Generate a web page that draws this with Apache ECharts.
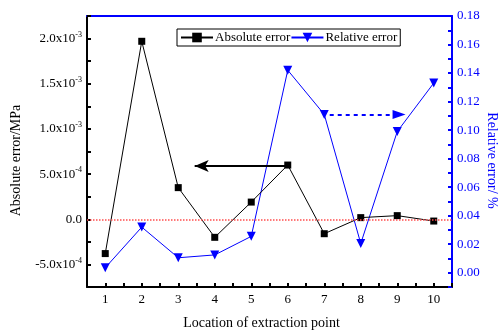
<!DOCTYPE html>
<html lang="en">
<head>
    <meta charset="UTF-8">
    <title>Absolute and relative error</title>
    <style type="text/css">
        * { margin: 0; padding: 0; }
        html, body { width: 100%; height: 100%; background: #fff; }
        #chart-panel { width: 501px; height: 332px; }
    </style>
</head>
<body>
<div id="chart-panel"></div>
<script src="https://cdn.jsdelivr.net/npm/echarts@6/dist/echarts.min.js"></script>
<script>
    // extraction point locations
    let points = [1, 2, 3, 4, 5, 6, 7, 8, 9, 10];
    // absolute error, MPa
    let absError = [-3.8e-4, 1.97e-3, 3.5e-4, -2.0e-4, 1.9e-4, 6.0e-4, -1.6e-4, 1.8e-5, 4.0e-5, -2.0e-5];
    // relative error, %
    let relError = [0.0035, 0.032, 0.0105, 0.0125, 0.0255, 0.142, 0.111, 0.0205, 0.099, 0.133];
    // left tick labels: [mantissa, exponent] for -5e-4 .. 2e-3 step 5e-4
    let leftTicks = [['-5.0x10', '-4'], ['0.0', ''], ['5.0x10', '-4'], ['1.0x10', '-3'], ['1.5x10', '-3'], ['2.0x10', '-3']];
    // arrow annotations (data coords): [x from, x to, y]
    let absArrow = [6, 3.45, 5.9e-4];
    let relArrow = [7.15, 9.05, 0.111];

    let font = 'Liberation Serif';
    let blue = '#0000ff';

    var myChart = echarts.init(document.getElementById('chart-panel'));

    var option = {
        animation: false,
        textStyle: { fontFamily: font },
        grid: { left: 87, right: 49, top: 16, bottom: 45, outerBoundsMode: 'none', containLabel: false },
        legend: {
            left: 177,
            top: 29,
            itemGap: 0,
            itemWidth: 32,
            itemHeight: 12,
            padding: [2, 3, 2, 3],
            borderColor: '#000',
            borderWidth: 1,
            borderRadius: 0,
            textStyle: { fontFamily: font, fontSize: 13, color: '#000', padding: [0, 0, 0, -3] },
            data: ['Absolute error', 'Relative error']
        },
        xAxis: [{
            type: 'value',
            min: 0.5,
            max: 10.5,
            interval: 0.5,
            name: 'Location of extraction point',
            nameLocation: 'middle',
            nameGap: 29,
            nameMoveOverlap: false,
            nameTextStyle: { fontFamily: font, fontSize: 14, color: '#000', padding: [0, 16, 0, 0] },
            axisLine: { onZero: false, lineStyle: { color: '#000', width: 2 } },
            axisTick: { inside: true, length: 4, lineStyle: { color: '#000', width: 2 } },
            axisLabel: {
                fontFamily: font, fontSize: 13, color: '#000', margin: 6,
                formatter: v => Number.isInteger(v) ? String(v) : ''
            },
            splitLine: { show: false }
        }, {
            type: 'value',
            position: 'top',
            min: 0.5,
            max: 10.5,
            axisLine: { onZero: false, lineStyle: { color: blue, width: 2 } },
            axisTick: { show: false },
            axisLabel: { show: false },
            splitLine: { show: false }
        }],
        yAxis: [{
            type: 'value',
            min: -7.5e-4,
            max: 2.25e-3,
            interval: 2.5e-4,
            name: 'Absolute error/MPa',
            nameLocation: 'middle',
            nameGap: 64,
            nameMoveOverlap: false,
            nameTextStyle: { fontFamily: font, fontSize: 14, color: '#000', padding: [0, 0, 0, -18] },
            axisLine: { onZero: false, lineStyle: { color: '#000', width: 2 } },
            axisTick: { inside: true, length: 4, lineStyle: { color: '#000', width: 2 } },
            axisLabel: {
                margin: 5,
                formatter: function (v) {
                    let k = Math.round(v / 2.5e-4);
                    if (k % 2 !== 0) return '';
                    let t = leftTicks[k / 2 + 1];
                    if (!t) return '';
                    return t[1] ? '{b|' + t[0] + '}{s|' + t[1] + '}' : '{b|' + t[0] + '}';
                },
                rich: {
                    b: { fontFamily: font, fontSize: 13, color: '#000', lineHeight: 16 },
                    s: { fontFamily: font, fontSize: 8, color: '#000', verticalAlign: 'top', lineHeight: 16 }
                }
            },
            splitLine: { show: false }
        }, {
            type: 'value',
            position: 'right',
            min: -0.01,
            max: 0.18,
            interval: 0.01,
            name: 'Relative error/ %',
            nameLocation: 'middle',
            nameRotate: -90,
            nameGap: 33,
            nameMoveOverlap: false,
            nameTextStyle: { fontFamily: font, fontSize: 14, color: blue, padding: [0, 0, 0, 18] },
            axisLine: { onZero: false, lineStyle: { color: blue, width: 2 } },
            axisTick: { inside: true, length: 4, lineStyle: { color: blue, width: 2 } },
            axisLabel: {
                fontFamily: font, fontSize: 13, color: blue, margin: 5,
                formatter: function (v) {
                    let k = Math.round(v * 100);
                    return (k >= 0 && k % 2 === 0) ? v.toFixed(2) : '';
                }
            },
            splitLine: { show: false }
        }],
        series: [{
            name: 'Absolute error',
            type: 'line',
            yAxisIndex: 0,
            symbol: 'rect',
            symbolSize: 7,
            z: 3,
            itemStyle: { color: '#000' },
            lineStyle: { color: '#000', width: 1 },
            data: points.map((p, i) => [p, absError[i]]),
            markLine: {
                silent: true,
                label: { show: false },
                data: [
                    [{ yAxis: 0, x: 87, symbol: 'none', lineStyle: { color: '#ff4d4d', type: 'dotted', width: 1.5 } },
                     { yAxis: 0, x: 452, symbol: 'none' }],
                    [{ coord: [absArrow[0], absArrow[2]], symbol: 'none', lineStyle: { color: '#000', type: 'solid', width: 2 } },
                     { coord: [absArrow[1], absArrow[2]], symbol: 'arrow', symbolSize: [9, 14] }]
                ]
            }
        }, {
            name: 'Relative error',
            type: 'line',
            yAxisIndex: 1,
            symbol: 'triangle',
            symbolRotate: 180,
            symbolSize: 9,
            z: 2,
            itemStyle: { color: blue },
            lineStyle: { color: blue, width: 1 },
            data: points.map((p, i) => [p, relError[i]]),
            markLine: {
                silent: true,
                label: { show: false },
                data: [
                    [{ coord: [relArrow[0], relArrow[2]], symbol: 'none', lineStyle: { color: blue, type: [4, 4], width: 2 } },
                     { coord: [relArrow[1], relArrow[2]], symbol: 'triangle', symbolSize: [9, 13] }]
                ]
            }
        }]
    };
    myChart.setOption(option);
</script>
</body>
</html>
